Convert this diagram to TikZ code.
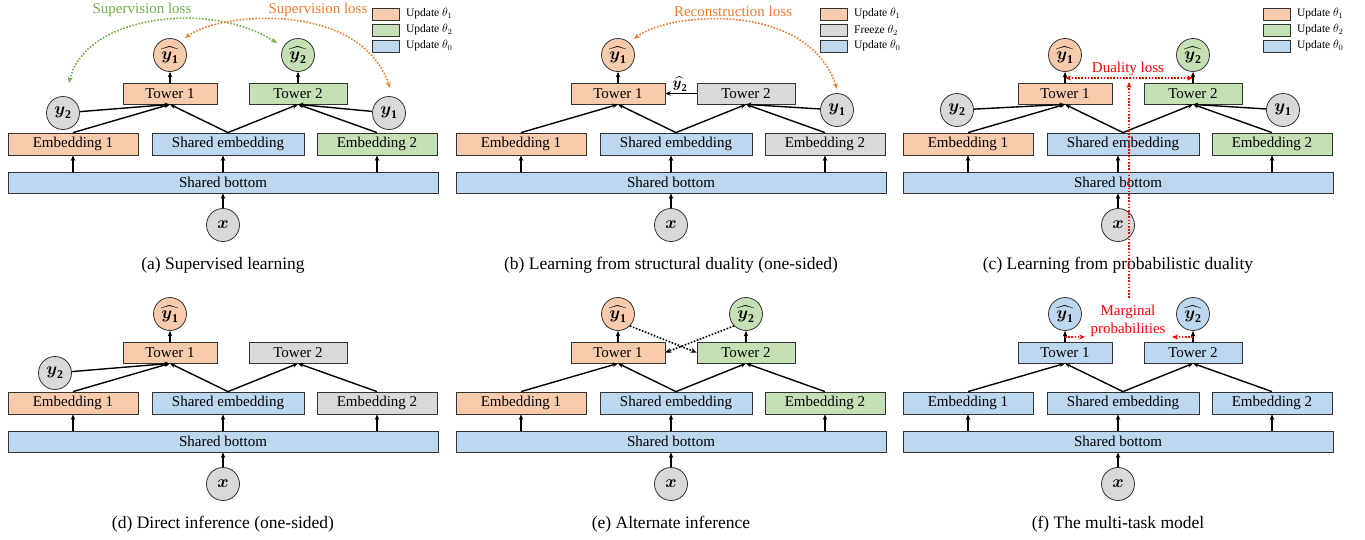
\documentclass[tikz,border=0pt]{standalone}
\usepackage{amsmath,amssymb}
\usepackage{fontspec}
\setmainfont{Liberation Serif}
\usetikzlibrary{arrows.meta}
\definecolor{cO}{HTML}{F8CBAD}
\definecolor{cG}{HTML}{C5E0B4}
\definecolor{cB}{HTML}{BDD7EE}
\definecolor{cY}{HTML}{D9D9D9}
\definecolor{lossG}{HTML}{70AD47}
\definecolor{lossO}{HTML}{ED7D31}
\newcommand\yh[1]{$\widehat{\boldsymbol{y}_{\mathbf{#1}}}$}
\newcommand\yv[1]{$\boldsymbol{y}_{\mathbf{#1}}$}
\tikzset{
  box/.style={draw=black!80, line width=0.8pt, minimum height=21pt, inner sep=0pt, font=\fontsize{15}{17}\selectfont},
  circ/.style={circle, draw=black!80, line width=0.8pt, minimum size=33pt, inner sep=0pt, font=\fontsize{17}{19}\selectfont},
  arr/.style={-{Stealth[length=5.5pt,width=4.5pt]}, line width=1.4pt},
  dotarr/.style={{Stealth[length=6pt,width=5pt]}-{Stealth[length=6pt,width=5pt]}, line width=1.6pt, dash pattern=on 1.6pt off 1.6pt},
  dotone/.style={-{Stealth[length=6pt,width=5pt]}, line width=1.6pt, dash pattern=on 1.6pt off 1.6pt},
  losstxt/.style={font=\fontsize{15}{18}\selectfont, inner sep=0pt},
  captxt/.style={font=\fontsize{17.5}{20}\selectfont, inner sep=0pt},
  legbox/.style={draw=black!80, line width=0.8pt, minimum width=27pt, minimum height=12pt, inner sep=0pt},
  legtxt/.style={font=\fontsize{11.5}{13}\selectfont, anchor=west, inner sep=0pt},
}
% #1 E1 fill, #2 E2 fill, #3 T1 fill, #4 T2 fill
\newcommand\panelbase[4]{%
  \node[box, fill=cB, minimum width=430pt] (SB) at (223,182.5) {Shared bottom};
  \node[box, fill=#1, minimum width=130pt, minimum height=22pt] (E1) at (73,144) {Embedding 1};
  \node[box, fill=cB, minimum width=152pt, minimum height=22pt] (SE) at (228,144) {Shared embedding};
  \node[box, fill=#2, minimum width=120pt, minimum height=22pt] (E2) at (377,144) {Embedding 2};
  \node[box, fill=#3, minimum width=94pt] (T1) at (170,93.5) {Tower 1};
  \node[box, fill=#4, minimum width=98pt] (T2) at (298,93.5) {Tower 2};
  \node[circ, fill=cY] (X) at (223,225) {$\boldsymbol{x}$};
  \draw[arr] (X) -- (SB);
  \draw[arr] (SB.north -| E1) -- (E1);
  \draw[arr] (SB.north) -- (SB.north |- SE.south);
  \draw[arr] (SB.north -| E2) -- (E2);
  \draw[arr] (E1.north) -- (T1.south);
  \draw[arr] (SE.north) -- (T1.south);
  \draw[arr] (SE.north) -- (T2.south);
  \draw[arr] (E2.north) -- (T2.south);
}
% legend: #1 fill1 #2 text1 #3 fill2 #4 text2 #5 fill3 #6 text3
\newcommand\legendbox[6]{%
  \node[legbox, fill=#1] (L1) at (386,14) {};
  \node[legtxt] (L1t) at ([xshift=6pt]L1.east) {#2};
  \node[legbox, fill=#3] (L2) at (386,30) {};
  \node[legtxt] (L2t) at ([xshift=6pt]L2.east) {#4};
  \node[legbox, fill=#5] (L3) at (386,46) {};
  \node[legtxt] (L3t) at ([xshift=6pt]L3.east) {#6};
}
\begin{document}
\begin{tikzpicture}[x=1pt,y=-1pt]
\useasboundingbox (0,0) rectangle (1365,539);

% ---------------- (a)
\begin{scope}[name prefix=a-]
  \panelbase{cO}{cG}{cO}{cG}
  \node[circ, fill=cO] (Y1h) at (170,55) {\yh1};
  \node[circ, fill=cG] (Y2h) at (298,55) {\yh2};
  \node[circ, fill=cY] (Y2) at (63,113) {\yv2};
  \node[circ, fill=cY] (Y1) at (389,113) {\yv1};
  \draw[arr] (T1) -- (Y1h);
  \draw[arr] (T2) -- (Y2h);
  \draw[arr] (Y2) -- (T1.south);
  \draw[arr] (Y1) -- (T2.south);
  \coordinate (gS) at (69,83);
  \coordinate (gE) at (277,43);
  \draw[dotarr, lossG] (gS) .. controls (85,15) and (210,0) .. (gE);
  \coordinate (oS) at (185,38);
  \coordinate (oE) at (390,88);
  \draw[dotarr, lossO] (oS) .. controls (220,12) and (360,0) .. (oE);
  \node[losstxt, text=lossG] (gL) at (142,10) {Supervision loss};
  \node[losstxt, text=lossO] (oL) at (318,10) {Supervision loss};
  \legendbox{cO}{Update $\theta_1$}{cG}{Update $\theta_2$}{cB}{Update $\theta_0$}
  \node[captxt] (cap) at (223,265) {(a) Supervised learning};
\end{scope}

% ---------------- (b)
\begin{scope}[shift={(448,0)}, name prefix=b-]
  \panelbase{cO}{cY}{cO}{cY}
  \node[circ, fill=cO] (Y1h) at (170,55) {\yh1};
  \node[circ, fill=cY] (Y1) at (389,110) {\yv1};
  \draw[arr] (T1) -- (Y1h);
  \draw[arr] (T2) -- (T1);
  \node[font=\fontsize{15}{17}\selectfont, inner sep=0pt] (Y2lab) at (232,84) {\yh2};
  \draw[arr] (Y1) -- (T2.south);
  \coordinate (oS) at (186,39);
  \coordinate (oE) at (389,89);
  \draw[dotarr, lossO] (oS) .. controls (220,12) and (360,0) .. (oE);
  \node[losstxt, text=lossO] (oL) at (285,11) {Reconstruction loss};
  \legendbox{cO}{Update $\theta_1$}{cY}{Freeze $\theta_2$}{cB}{Update $\theta_0$}
  \node[captxt] (cap) at (223,265) {(b) Learning from structural duality (one-sided)};
\end{scope}

% ---------------- (c)
\begin{scope}[shift={(895,0)}, name prefix=c-]
  \panelbase{cO}{cG}{cO}{cG}
  \node[circ, fill=cO] (Y1h) at (170,55) {\yh1};
  \node[circ, fill=cG] (Y2h) at (298,55) {\yh2};
  \node[circ, fill=cY] (Y2) at (62,110) {\yv2};
  \node[circ, fill=cY] (Y1) at (388,110) {\yv1};
  \draw[arr] (T1) -- (Y1h);
  \draw[arr] (T2) -- (Y2h);
  \draw[arr] (Y2) -- (T1.south);
  \draw[arr] (Y1) -- (T2.south);
  \coordinate (dL) at (170,78);
  \coordinate (dR) at (298,78);
  \draw[dotarr, red] (dL) -- (dR);
  \node[losstxt, text=red] (dlab) at (233,69) {Duality loss};
  \begin{scope}[xshift=-4pt]
    \legendbox{cO}{Update $\theta_1$}{cG}{Update $\theta_2$}{cB}{Update $\theta_0$}
  \end{scope}
  \node[captxt] (cap) at (223,265) {(c) Learning from probabilistic duality};
\end{scope}

% ---------------- (d)
\begin{scope}[shift={(0,259)}, name prefix=d-]
  \panelbase{cO}{cY}{cO}{cY}
  \node[circ, fill=cO] (Y1h) at (170,55) {\yh1};
  \node[circ, fill=cY] (Y2) at (55,114) {\yv2};
  \draw[arr] (T1) -- (Y1h);
  \draw[arr] (Y2) -- (T1.south);
  \node[captxt] (cap) at (223,265) {(d) Direct inference (one-sided)};
\end{scope}

% ---------------- (e)
\begin{scope}[shift={(448,259)}, name prefix=e-]
  \panelbase{cO}{cG}{cO}{cG}
  \node[circ, fill=cO] (Y1h) at (170,55) {\yh1};
  \node[circ, fill=cG] (Y2h) at (298,55) {\yh2};
  \draw[arr] (T1) -- (Y1h);
  \draw[arr] (T2) -- (Y2h);
  \draw[dotone] (Y1h.south east) -- (T2.west);
  \draw[dotone] (Y2h.south west) -- (T1.east);
  \node[captxt] (cap) at (223,265) {(e) Alternate inference};
\end{scope}

% ---------------- (f)
\begin{scope}[shift={(895,259)}, name prefix=f-]
  \panelbase{cB}{cB}{cB}{cB}
  \node[circ, fill=cB] (Y1h) at (170,55) {\yh1};
  \node[circ, fill=cB] (Y2h) at (298,55) {\yh2};
  \draw[arr] (T1) -- (Y1h);
  \draw[arr] (T2) -- (Y2h);
  \node[losstxt, text=red, align=center, font=\fontsize{15}{18}\selectfont] (mlab) at (233,62) {Marginal\\probabilities};
  \coordinate (mL0) at (170,78);
  \coordinate (mL1) at (190,78);
  \coordinate (mR0) at (298,78);
  \coordinate (mR1) at (277,78);
  \draw[dotone, red] (mL0) -- (mL1);
  \draw[dotone, red] (mR0) -- (mR1);
  \node[captxt] (cap) at (223,265) {(f) The multi-task model};
\end{scope}

% red link between (f) and (c)
\coordinate (vBot) at (1129,298);
\coordinate (vTop) at (1129,82);
\draw[dotone, red] (vBot) -- (vTop);
\end{tikzpicture}
\end{document}
